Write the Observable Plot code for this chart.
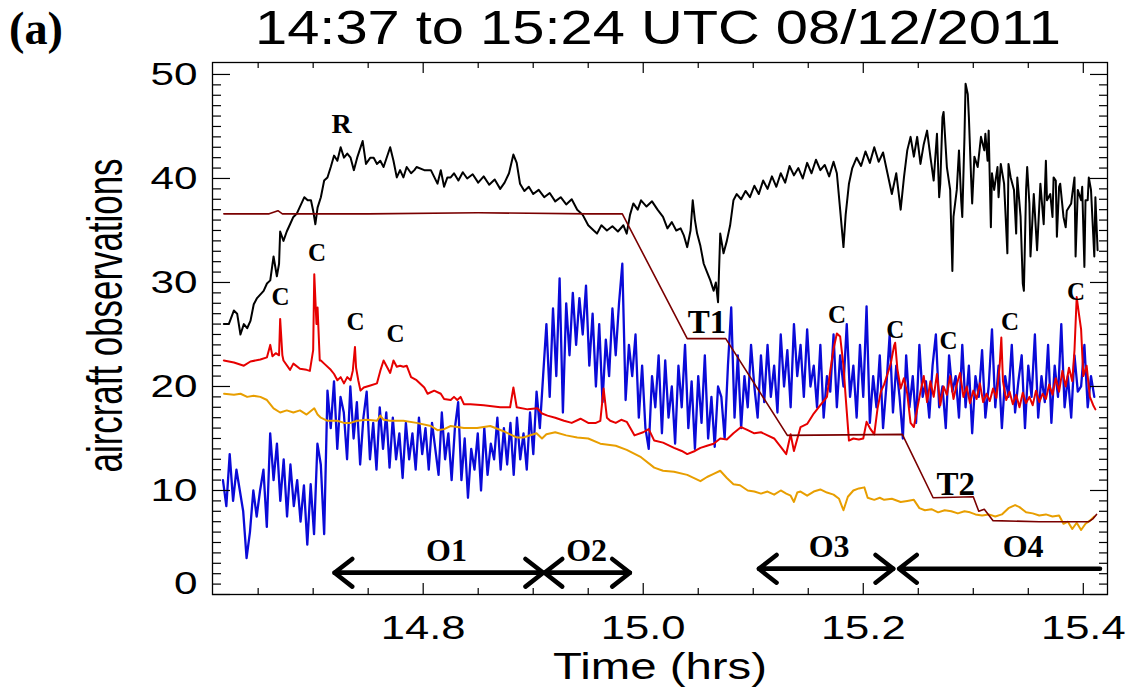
<!DOCTYPE html>
<html><head><meta charset="utf-8">
<script src="https://cdn.jsdelivr.net/npm/d3@7"></script>
<script src="https://cdn.jsdelivr.net/npm/@observablehq/plot@0.6"></script>
<style>
body{margin:0;background:#fff;}
#wrap{width:1138px;height:693px;overflow:hidden;background:#fff;}
svg{display:block;}
</style></head><body><div id="wrap"></div>
<script>
// ---------- texts ----------
const titleText = "14:37 to 15:24 UTC 08/12/2011";
const panelText = "(a)";
const xLabel = "Time (hrs)";
const yLabel = "aircraft observations";

// ---------- ticks ----------
const xMajor = [14.8, 15.0, 15.2, 15.4];
const xMinor = [14.65, 14.7, 14.75, 14.85, 14.9, 14.95, 15.05, 15.1, 15.15, 15.25, 15.3, 15.35];
const yMajor = [10, 20, 30, 40, 50];
const yZero = [0];
const yMinor = d3.range(1, 51).filter(d => d % 10 !== 0);

// ---------- series (time in hrs, value) ----------
const blackPts = [[14.6188,26.0],[14.6233,26.0],[14.6279,27.3],[14.6309,27.0],[14.6339,25.0],[14.637,26.0],[14.640,25.6],[14.643,26.3],[14.646,27.9],[14.649,28.5],[14.655,29.2],[14.658,29.9],[14.661,30.2],[14.664,32.5],[14.667,30.6],[14.669,31.8],[14.670,34.9],[14.673,34.0],[14.676,34.9],[14.679,35.6],[14.682,36.3],[14.685,36.6],[14.692,38.2],[14.695,37.9],[14.698,37.9],[14.700,36.9],[14.702,35.6],[14.704,37.2],[14.707,38.2],[14.710,39.8],[14.713,40.1],[14.716,41.1],[14.719,42.2],[14.722,41.7],[14.725,43.0],[14.728,42.0],[14.731,42.4],[14.734,42.0],[14.737,40.8],[14.740,42.0],[14.745,43.6],[14.748,41.4],[14.752,42.0],[14.755,42.0],[14.758,41.4],[14.761,41.7],[14.764,41.1],[14.770,43.0],[14.773,41.7],[14.776,40.1],[14.779,40.8],[14.782,40.1],[14.785,41.1],[14.789,40.5],[14.792,40.8],[14.794,41.1],[14.801,40.8],[14.807,40.8],[14.813,39.5],[14.816,40.8],[14.819,39.2],[14.822,40.1],[14.825,40.1],
[14.828,40.5],[14.832,39.8],[14.836,40.6],[14.840,40.0],[14.845,40.4],[14.850,39.6],[14.855,40.2],[14.860,39.4],[14.865,39.9],[14.870,39.0],[14.874,39.6],[14.878,40.5],[14.882,42.3],[14.885,41.5],[14.888,39.5],[14.892,38.8],[14.896,39.2],[14.900,38.5],[14.905,38.9],[14.910,38.2],[14.915,38.6],[14.920,37.8],[14.925,38.2],[14.930,37.5],[14.935,38.0],[14.940,37.0],[14.945,36.5],[14.950,35.5],[14.955,35.0],[14.958,34.7],[14.962,35.5],[14.967,35.0],[14.972,35.4],[14.977,34.9],[14.982,35.5],[14.985,34.7],[14.988,36.5],[14.991,37.6],[14.995,37.0],[14.998,37.9],[15.003,37.3],[15.008,37.8],[15.013,37.0],[15.018,36.3],[15.022,35.2],[15.026,35.8],[15.030,35.0],[15.034,35.2],[15.037,34.5],[15.040,33.4],[15.043,35.0],[15.045,37.9],[15.047,36.0],[15.049,34.7],[15.052,33.5],[15.055,31.8],[15.058,31.0],[15.061,30.2],[15.064,29.2],[15.066,30.0],[15.068,28.1],[15.070,34.7],[15.073,32.8],[15.076,34.0],[15.079,35.5],[15.082,37.9],
[15.085,38.5],[15.089,38.0],[15.093,38.8],[15.097,38.2],[15.101,39.3],[15.105,38.5],[15.109,39.8],[15.113,39.0],[15.117,40.2],[15.121,39.2],[15.125,40.5],[15.129,39.6],[15.133,41.2],[15.137,40.3],[15.141,41.0],[15.145,40.0],[15.149,41.5],[15.153,40.5],[15.157,41.8],[15.161,40.8],[15.165,41.3],[15.169,40.2],[15.173,41.6],[15.176,40.5],[15.179,37.0],[15.182,33.4],[15.184,36.5],[15.187,39.5],[15.190,41.0],[15.194,42.0],[15.198,41.2],[15.202,42.6],[15.206,41.5],[15.210,43.0],[15.214,41.6],[15.218,42.5],[15.222,40.5],[15.226,38.5],[15.230,40.5],[15.234,37.0],
[15.237,40.1],[15.240,42.7],[15.243,44.0],[15.246,42.1],[15.249,44.0],[15.252,41.4],[15.255,43.3],[15.258,44.6],[15.261,42.1],[15.264,39.8],[15.267,44.3],[15.269,38.2],[15.270,39.5],[15.272,45.9],[15.273,46.4],[15.276,41.1],[15.279,38.9],[15.281,31.1],[15.282,36.3],[15.285,38.9],[15.287,42.7],[15.289,37.9],[15.290,36.3],[15.292,44.0],[15.293,49.1],[15.295,48.1],[15.296,45.9],[15.298,40.1],[15.299,37.6],[15.301,42.1],[15.304,41.1],[15.307,44.0],[15.310,42.7],[15.311,44.3],[15.313,41.7],[15.314,44.6],[15.316,35.3],[15.317,40.5],[15.319,38.9],[15.322,41.1],[15.323,38.2],[15.325,41.4],[15.328,39.5],[15.331,32.8],[15.332,41.4],[15.334,40.1],[15.337,38.9],[15.339,34.7],[15.340,40.1],[15.343,36.3],[15.345,29.9],[15.346,29.2],[15.348,38.9],[15.349,41.1],[15.351,37.6],[15.352,32.5],[15.355,38.5],[15.358,33.1],[15.361,39.5],[15.364,35.6],[15.366,41.7],[15.367,37.9],[15.370,38.5],[15.372,36.3],[15.373,40.1],[15.375,39.8],[15.376,34.4],[15.378,39.2],[15.379,39.5],[15.382,36.3],[15.384,35.3],[15.385,36.9],[15.389,37.6],[15.390,38.5],[15.392,40.1],[15.393,32.5],[15.395,38.9],[15.398,37.9],[15.399,39.2],[15.401,31.5],[15.402,37.9],[15.404,37.9],[15.405,40.1],[15.407,38.9],[15.410,32.5],[15.411,38.2],[15.413,33.1]];

const maroonPts = [[14.6188,36.6],[14.66,36.6],[14.668,36.9],[14.672,36.6],[14.75,36.6],[14.85,36.7],[14.95,36.6],[14.981,36.6],[15.040,24.6],[15.075,24.6],[15.131,15.3],[15.2355,15.4],[15.2635,9.3],[15.300,9.4],[15.305,8.0],[15.310,8.2],[15.318,7.1],[15.36,7.0],[15.405,7.0],[15.409,7.3],[15.412,7.7]];

const redPts = [[14.6188,22.5],[14.628,22.3],[14.637,22.0],[14.643,22.4],[14.652,22.6],[14.658,22.8],[14.661,24.0],[14.663,22.9],[14.666,23.2],[14.669,23.0],[14.670,26.5],[14.672,23.0],[14.673,22.5],[14.679,21.6],[14.682,22.2],[14.688,21.7],[14.694,21.6],[14.697,21.5],[14.700,23.5],[14.701,30.8],[14.703,26.0],[14.704,27.6],[14.706,22.5],[14.707,22.5],[14.710,22.2],[14.716,21.6],[14.719,21.2],[14.722,20.6],[14.725,20.9],[14.728,20.3],[14.731,20.9],[14.734,20.6],[14.736,21.5],[14.738,23.8],[14.739,21.8],[14.741,20.6],[14.743,19.6],[14.746,19.9],[14.752,20.1],[14.758,20.3],[14.761,21.5],[14.764,22.5],[14.767,21.9],[14.770,21.3],[14.773,22.5],[14.776,21.9],[14.779,22.0],[14.782,21.9],[14.785,22.0],[14.789,20.9],[14.794,20.6],[14.801,19.9],[14.804,19.3],[14.810,19.6],[14.816,19.3],[14.819,18.8],[14.825,18.7],[14.828,19.0],[14.831,18.7],[14.834,19.0],[14.837,18.3],[14.843,18.3],[14.855,18.2],[14.870,18.0],[14.879,18.0],[14.882,19.9],[14.885,18.0],[14.895,17.8],[14.904,17.9],[14.908,17.4],[14.913,17.2],[14.920,17.0],[14.928,16.7],[14.935,16.5],[14.943,16.9],[14.950,16.5],[14.957,16.5],[14.961,16.7],[14.964,19.8],[14.967,17.0],[14.970,16.7],[14.975,16.5],[14.980,16.8],[14.985,16.6],[14.992,15.3],[15.000,15.6],[15.005,15.9],[15.010,14.8],[15.018,14.6],[15.028,14.1],[15.035,13.8],[15.040,13.5],[15.047,13.8],[15.052,14.1],[15.058,14.3],[15.064,14.5],[15.070,15.0],[15.076,14.9],[15.082,15.5],[15.089,16.1],[15.095,15.8],[15.101,15.5],[15.107,15.6],[15.113,15.3],[15.119,15.0],[15.125,14.2],[15.130,13.5],[15.134,15.4],[15.137,13.8],[15.143,16.1],[15.149,16.4],[15.155,17.4],[15.161,18.2],[15.167,19.0],[15.170,21.5],[15.173,23.6],[15.176,25.1],[15.179,24.8],[15.182,22.0],[15.184,19.0],[15.187,14.8],[15.191,15.0],[15.196,14.9],[15.200,15.0],[15.203,16.6],[15.206,16.0],[15.210,15.4],[15.213,17.9],[15.216,19.5],[15.219,20.2],[15.222,21.2],[15.225,22.2],[15.228,23.9],[15.229,24.2],[15.231,21.7],[15.234,19.8],[15.237,20.8],[15.240,19.3],[15.243,16.5],[15.246,16.1],[15.249,17.8],
[15.252,19.5],[15.255,21.0],[15.258,18.5],[15.261,20.5],[15.264,19.0],[15.267,21.2],[15.270,18.2],[15.273,20.0],[15.276,19.2],[15.279,21.0],[15.282,18.8],[15.285,20.2],[15.288,21.3],[15.291,19.0],[15.294,20.0],[15.297,18.4],[15.300,19.6],[15.303,18.8],[15.306,20.3],[15.309,18.5],[15.312,19.3],[15.315,18.6],[15.318,19.8],[15.321,18.9],[15.324,22.0],[15.3255,24.7],[15.327,20.5],[15.330,18.7],[15.333,19.5],[15.336,18.3],[15.339,19.2],[15.342,18.0],[15.345,19.4],[15.348,18.4],[15.351,19.0],[15.354,18.2],[15.357,19.6],[15.360,18.5],[15.363,19.3],[15.366,18.8],[15.369,20.2],[15.372,19.2],[15.375,20.8],[15.378,19.5],[15.381,21.5],[15.384,20.0],[15.387,21.8],[15.390,20.5],[15.392,23.5],[15.394,28.6],[15.396,27.0],[15.398,25.5],[15.400,21.0],[15.403,22.0],[15.406,19.0],[15.409,18.2],[15.411,17.8]];

const orangePts = [[14.619,19.3],[14.628,19.2],[14.634,19.3],[14.640,19.0],[14.646,19.1],[14.652,19.0],[14.658,18.7],[14.664,17.9],[14.670,17.5],[14.676,17.7],[14.682,17.5],[14.688,17.7],[14.694,17.3],[14.701,17.9],[14.704,17.3],[14.707,17.0],[14.713,16.7],[14.722,16.7],[14.728,16.5],[14.734,16.5],[14.740,16.7],[14.749,16.8],[14.758,16.7],[14.761,17.2],[14.764,16.8],[14.770,16.7],[14.782,16.7],[14.794,16.5],[14.807,16.2],[14.813,15.8],[14.819,15.9],[14.825,16.2],[14.837,16.0],[14.849,16.0],[14.861,16.2],[14.873,15.7],[14.879,15.4],[14.885,15.1],[14.891,15.1],[14.903,15.5],[14.908,15.0],[14.912,15.4],[14.920,15.6],[14.930,15.3],[14.940,15.1],[14.950,15.0],
[14.961,14.5],[14.975,14.3],[14.985,13.9],[14.998,13.2],[15.010,12.2],[15.018,11.9],[15.028,11.8],[15.040,11.5],[15.052,10.9],[15.058,11.3],[15.064,11.6],[15.070,11.9],[15.076,11.2],[15.082,10.6],[15.088,10.5],[15.095,10.0],[15.101,9.9],[15.107,9.7],[15.113,9.9],[15.119,9.6],[15.125,10.0],[15.130,9.7],[15.134,9.5],[15.137,8.9],[15.140,9.8],[15.143,9.9],[15.149,9.5],[15.155,9.9],[15.161,10.1],[15.167,9.8],[15.173,9.6],[15.178,9.2],[15.182,8.1],[15.186,9.4],[15.191,10.0],[15.196,10.2],[15.201,10.3],[15.204,9.3],[15.210,9.1],[15.215,9.3],[15.219,9.1],[15.226,9.2],[15.234,8.9],[15.240,9.0],[15.246,9.1],[15.251,8.3],[15.256,8.1],[15.262,8.2],[15.268,7.9],[15.274,8.1],[15.280,8.0],[15.286,7.8],[15.292,8.0],[15.297,7.9],[15.302,7.7],[15.308,7.6],[15.314,7.7],[15.320,7.5],[15.326,7.7],[15.332,8.3],[15.338,8.6],[15.342,8.4],[15.348,7.9],[15.354,7.8],[15.360,7.6],[15.366,7.7],[15.372,7.5],[15.378,7.6],[15.382,6.8],[15.386,7.0],[15.390,6.3],[15.394,6.9],[15.398,6.2],[15.402,6.8],[15.406,7.1],[15.410,7.5]];

// blue: readings at a regular sampling inside each time span
const blueSpans = [[14.618,14.710],[14.713,14.909],[14.912,14.993],[14.996,15.068],[15.071,15.098],[15.101,15.188],[15.191,15.410]];
const blueA = [11,8.5,13.5,9,12,10,8,3.5,6,10,7.5,10,12,6.5,15.5,11,14.5,9,13,7.5,12.5,8.5,11,7,10.5,4.8,10.6,5.8,14.5,12.5,5.8];
const blueB = [19.6,16,20.5,14,19,17.5,13,20,15,18.5,12.5,17,19.5,13,16.5,12,18,14,17.5,12.2,17,13,15.5,11.2,16.5,13,15.5,12,17,13.5,16,12,16.5,14,11.5,17.5,13,15.5,11,16,18.5,11,15,9.3,14,12,15.5,10,16,11.5,14.5,13,17,12,16,12.5,16.5,11.5,17,13,15.5,12,17.5,13.5,19.5,16,21];
const blueC = [26,19,27.5,21,30.4,17.5,28,23,29,24,28.5,25,29.7,22,27,20,26,18.5,24.5,21,27.5,23,28,31.8,18.7,24,21,25];
const blueD = [17,22,16,14,21,18,23,15.5,22.5,17,20,14.5,22,18,24,16,20.5,14,21,16.5,23,15,19,14.2,20];
const blueE = [19,15,22,27.6,17,23,16,21,18,24];
const blueF = [20,17,23,18.5,24,19,22,17.5,25,20,23.5,18,26,21,24,19,25.5,20,22,18,24,17,21,19.5,25,18,23,20,26,19];
const blueG = [22,17,24,19,27.7,16.5,21,18,23,16,20,25,17.5,22,19,15,23,18,21,16.5,24,19,20.5,17,22,25,18,20,16,23,19.5,21,17,24,18,22,15.5,21,19,23.5,17,20,25.5,18,22,16,21,19,24,17.5,20.5,23,16,22,19,25,17,21,18.5,24,16.5,22,19,26,18,21,17,23,19.5,20,24,18,21,19];

// annotations
const annLabels = ["R","C","C","C","C","C","C","C","C","C","T1","T2","O1","O2","O3","O4"];
const annT = [14.7258,14.6703,14.7035,14.7385,14.7749,15.1762,15.229,15.2776,15.3335,15.3935,15.058,15.284,14.8212,14.9485,15.169,15.3453];
const annV = [45.2,28.6,32.8,26.2,25.05,26.9,25.4,24.4,26.2,29.1,26.2,10.6,4.2,4.2,4.6,4.6];
const annKind = ["R","C","C","C","C","C","C","C","C","C","T","T","O","O","O","O"];

// observation period arrows
const obsStart = [14.7194, 14.9103, 15.1051, 15.2325];
const obsEnd = [14.9091, 14.9879, 15.2273, 15.4152];
const obsLevel = [2.09, 2.09, 2.47, 2.47];
const obsBothHeads = [true, true, true, false];

// ---------- build tables ----------
const toRows = pts => pts.map(([t, v]) => ({t, v}));
const black = toRows(blackPts), maroon = toRows(maroonPts), red = toRows(redPts), orange = toRows(orangePts);
const blue = [];
[blueA, blueB, blueC, blueD, blueE, blueF, blueG].forEach((vals, k) => {
  const [t0, t1] = blueSpans[k];
  vals.forEach((v, i) => blue.push({t: t0 + (t1 - t0) * i / (vals.length - 1), v}));
});
const ann = annLabels.map((label, i) => ({label, t: annT[i], v: annV[i], kind: annKind[i]}));
const obs = obsStart.map((a, i) => ({a, b: obsEnd[i], y: obsLevel[i], both: obsBothHeads[i]}));

// ---------- header (title) ----------
const W = 1138;
const head = d3.create("svg").attr("width", W).attr("height", 56);
head.append("text").attr("x", 9).attr("y", 44)
  .attr("font-family", "Liberation Serif, serif").attr("font-weight", "bold").attr("font-size", 46)
  .attr("textLength", 54).attr("lengthAdjust", "spacingAndGlyphs").text(panelText);
head.append("text").attr("x", 658).attr("y", 44).attr("text-anchor", "middle")
  .attr("font-family", "Liberation Sans, Arial, sans-serif").attr("font-size", 48)
  .attr("textLength", 806).attr("lengthAdjust", "spacingAndGlyphs").text(titleText);
document.getElementById("wrap").append(head.node());

// ---------- chart ----------
const serif = "Liberation Serif, serif";
const chart = Plot.plot({
  width: W, height: 637,
  marginLeft: 212, marginRight: 31, marginTop: 6, marginBottom: 99,
  style: {fontFamily: "Liberation Sans, Arial, sans-serif", background: "white", color: "black", overflow: "visible"},
  x: {domain: [14.6085, 15.422]},
  y: {domain: [0, 51.15]},
  marks: [
    Plot.line(blue, {x: "t", y: "v", stroke: "#0a0ad8", strokeWidth: 2.3, strokeLinejoin: "round"}),
    Plot.line(orange, {x: "t", y: "v", stroke: "#e89e00", strokeWidth: 2, strokeLinejoin: "round"}),
    Plot.line(red, {x: "t", y: "v", stroke: "#e60000", strokeWidth: 2, strokeLinejoin: "round"}),
    Plot.line(black, {x: "t", y: "v", stroke: "black", strokeWidth: 2, strokeLinejoin: "round"}),
    Plot.line(maroon, {x: "t", y: "v", stroke: "#7a0000", strokeWidth: 1.6}),
    // inward ticks
    Plot.axisY({ticks: [0, ...yMajor], tickSize: -18, fill: "none", label: null, strokeWidth: 1.2}),
    Plot.axisY({ticks: yMinor, tickSize: -9, fill: "none", label: null, strokeWidth: 1.2}),
    Plot.axisY({anchor: "right", ticks: [0, ...yMajor], tickSize: -18, fill: "none", label: null, strokeWidth: 1.2}),
    Plot.axisY({anchor: "right", ticks: yMinor, tickSize: -9, fill: "none", label: null, strokeWidth: 1.2}),
    Plot.axisX({ticks: xMajor, tickSize: -11, fill: "none", label: null, strokeWidth: 1.2}),
    Plot.axisX({ticks: xMinor, tickSize: -6, fill: "none", label: null, strokeWidth: 1.2}),
    Plot.axisX({anchor: "top", ticks: xMajor, tickSize: -10, fill: "none", label: null, strokeWidth: 1.2}),
    Plot.axisX({anchor: "top", ticks: xMinor, tickSize: -5, fill: "none", label: null, strokeWidth: 1.2}),
    // tick labels
    Plot.axisY({ticks: yMajor, tickSize: 0, tickPadding: 15, fontSize: 32, label: null}),
    Plot.axisY({ticks: yZero, tickSize: 0, tickPadding: 15, fontSize: 32, label: null, dy: -11}),
    Plot.axisX({ticks: xMajor, tickSize: 0, tickPadding: 20, fontSize: 34, label: null, tickFormat: d3.format(".1f")}),
    // axis titles
    Plot.text([xLabel], {text: d => d, frameAnchor: "bottom", dy: 84, lineAnchor: "bottom", fontSize: 37}),
    Plot.text([yLabel], {text: d => d, frameAnchor: "left", textAnchor: "middle", rotate: -90, dx: -91, dy: -13, lineAnchor: "bottom", fontSize: 50}),
    // observation arrows
    Plot.arrow(obs, {x1: "b", x2: "a", y1: "y", y2: "y", stroke: "black", strokeWidth: 4.5, headLength: 7.5, headAngle: 76}),
    Plot.arrow(obs.filter(d => d.both), {x1: "a", x2: "b", y1: "y", y2: "y", stroke: "black", strokeWidth: 4.5, headLength: 7.5, headAngle: 76}),
    // annotations
    Plot.text(ann.filter(d => d.kind === "R"), {x: "t", y: "v", text: "label", fontFamily: serif, fontWeight: "bold", fontSize: 28}),
    Plot.text(ann.filter(d => d.kind === "C"), {x: "t", y: "v", text: "label", fontFamily: serif, fontWeight: "bold", fontSize: 25}),
    Plot.text(ann.filter(d => d.kind === "T"), {x: "t", y: "v", text: "label", fontFamily: serif, fontWeight: "bold", fontSize: 33}),
    Plot.text(ann.filter(d => d.kind === "O"), {x: "t", y: "v", text: "label", fontFamily: serif, fontWeight: "bold", fontSize: 32}),
    Plot.frame({stroke: "black", strokeWidth: 1.3})
  ]
});
document.getElementById("wrap").append(chart);

// horizontal stretch of the sans-serif texts (the reference is rendered wide)
function stretch(sel, s) {
  d3.select(chart).selectAll(sel).each(function () {
    const L = this.getComputedTextLength();
    this.setAttribute("textLength", L * s);
    this.setAttribute("lengthAdjust", "spacingAndGlyphs");
  });
}
stretch('g[aria-label="y-axis tick label"] text', 1.32);
stretch('g[aria-label="x-axis tick label"] text', 1.28);
d3.select(chart).selectAll("text").each(function () {
  if (this.textContent === xLabel) {
    this.setAttribute("textLength", this.getComputedTextLength() * 1.28);
    this.setAttribute("lengthAdjust", "spacingAndGlyphs");
  } else if (this.textContent === yLabel) {
    this.setAttribute("textLength", 314);
    this.setAttribute("lengthAdjust", "spacingAndGlyphs");
  }
});
</script></body></html>
